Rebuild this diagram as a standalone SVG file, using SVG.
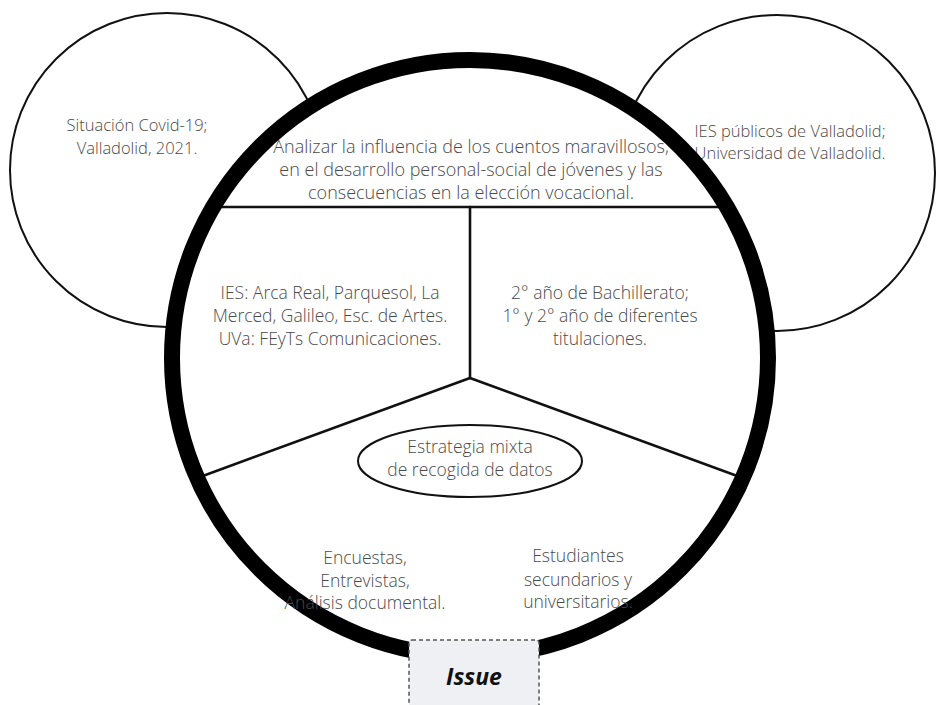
<svg xmlns="http://www.w3.org/2000/svg" width="938" height="705" viewBox="0 0 938 705">
  <style>
    .t { font-family: "Open Sans", "Noto Sans", "Liberation Sans", sans-serif; font-weight: 300; font-size: 17.5px; fill: #4a4a4a; text-anchor: middle; }
    .s { font-size: 16.5px; }
    .l { font-size: 18px; }
    .thin { fill: #ffffff; stroke: #111111; stroke-width: 2; }
    .div { stroke: #111111; stroke-width: 2.6; fill: none; stroke-linecap: round; }
  </style>
  <rect width="938" height="705" fill="#ffffff"/>

  <g id="node-context">
    <circle class="thin" cx="167" cy="170" r="157"/>
    <text class="t s" x="137" y="131">Situación Covid-19;</text>
    <text class="t s" x="137" y="154">Valladolid, 2021.</text>
  </g>

  <g id="node-setting">
    <circle class="thin" cx="777" cy="173" r="158"/>
    <text class="t s" x="790" y="137">IES públicos de Valladolid;</text>
    <text class="t s" x="790" y="159">Universidad de Valladolid.</text>
  </g>

  <g id="node-main">
    <circle cx="470" cy="358" r="298" fill="#ffffff"/>
  </g>

  <g id="connectors">
    <line class="div" x1="215" y1="207" x2="725" y2="207"/>
    <line class="div" x1="470" y1="207" x2="470" y2="378"/>
    <line class="div" x1="470" y1="378" x2="200" y2="477"/>
    <line class="div" x1="470" y1="378" x2="740" y2="477"/>
  </g>

  <g id="node-main-ring">
    <circle cx="470" cy="358" r="298" fill="none" stroke="#000000" stroke-width="16"/>
  </g>

  <g id="node-objective">
    <text class="t l" x="471" y="153">Analizar la influencia de los cuentos maravillosos,</text>
    <text class="t l" x="471" y="176">en el desarrollo personal-social de jóvenes y las</text>
    <text class="t l" x="471" y="199">consecuencias en la elección vocacional.</text>
  </g>

  <g id="node-centers">
    <text class="t" x="330" y="299">IES: Arca Real, Parquesol, La</text>
    <text class="t" x="330" y="322">Merced, Galileo, Esc. de Artes.</text>
    <text class="t" x="330" y="345">UVa: FEyTs Comunicaciones.</text>
  </g>

  <g id="node-courses">
    <text class="t" x="600" y="299">2° año de Bachillerato;</text>
    <text class="t" x="600" y="322">1° y 2° año de diferentes</text>
    <text class="t" x="600" y="345">titulaciones.</text>
  </g>

  <g id="node-strategy">
    <ellipse cx="470" cy="461" rx="112" ry="36" fill="#ffffff" stroke="#111111" stroke-width="2"/>
    <text class="t" x="470" y="453">Estrategia mixta</text>
    <text class="t" x="470" y="476">de recogida de datos</text>
  </g>

  <g id="node-methods">
    <text class="t" x="365" y="564">Encuestas,</text>
    <text class="t" x="365" y="587">Entrevistas,</text>
    <text class="t" x="365" y="609">Análisis documental.</text>
  </g>

  <g id="node-participants">
    <text class="t" x="578" y="562">Estudiantes</text>
    <text class="t" x="578" y="586">secundarios y</text>
    <text class="t" x="578" y="608">universitarios.</text>
  </g>

  <g id="node-issue">
    <rect x="409" y="640" width="130" height="80" rx="3" fill="#eef0f3" stroke="#555555" stroke-width="1.5" stroke-dasharray="4 3"/>
    <text x="474" y="685" text-anchor="middle" style="font-family: 'Open Sans', 'Noto Sans', 'Liberation Sans', sans-serif; font-weight: 700; font-style: italic; font-size: 23px; fill: #111111;">Issue</text>
  </g>
</svg>
